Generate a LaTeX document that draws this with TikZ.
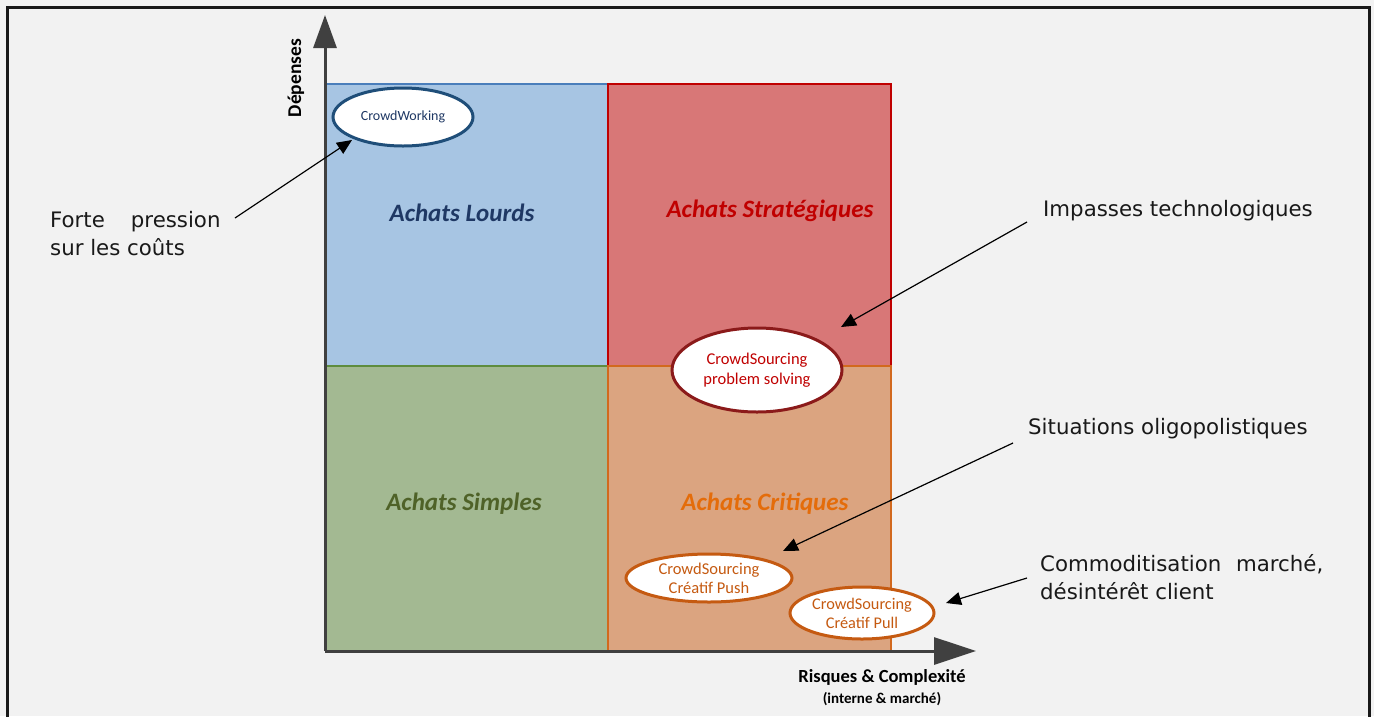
\documentclass[tikz,border=0pt]{standalone}
\usepackage{fontspec}
\setmainfont{Carlito}
\newfontfamily\callfont{DejaVu Sans}
\usetikzlibrary{arrows.meta,shapes.geometric}
\definecolor{bg}{HTML}{F2F2F2}
\definecolor{qblue}{HTML}{A7C5E3}
\definecolor{qblueb}{HTML}{4A7EBB}
\definecolor{qred}{HTML}{D87777}
\definecolor{qredb}{HTML}{C00000}
\definecolor{qgreen}{HTML}{A3B992}
\definecolor{qgreenb}{HTML}{5E8C3E}
\definecolor{qorange}{HTML}{DBA480}
\definecolor{qorangeb}{HTML}{D2691E}
\definecolor{tblue}{HTML}{1F3864}
\definecolor{tred}{HTML}{C00000}
\definecolor{tgreen}{HTML}{4F6228}
\definecolor{torange}{HTML}{E46C0A}
\definecolor{eblue}{HTML}{1F4E79}
\definecolor{ered}{HTML}{8B1A1A}
\definecolor{eorange}{HTML}{C55A11}
\definecolor{axisc}{HTML}{404040}
\tikzset{
  quad/.style={line width=1.5pt},
  qlabel/.style={font=\fontsize{25}{30}\selectfont\bfseries\itshape},
  oval/.style={ellipse, draw, fill=white, line width=3pt, inner sep=0pt, align=center},
  callout/.style={font=\callfont\fontsize{21.3}{28}\selectfont, align=left, anchor=west, inner sep=0pt, text=black!90},
  pointer/.style={-{Triangle[length=15pt,width=13pt]}, line width=1.2pt, black},
}
\begin{document}
\begin{tikzpicture}[x=1pt,y=-1pt]
\useasboundingbox (0,0) rectangle (1374,716);
\fill[bg] (0,0) rectangle (1374,716);
\draw[line width=3pt, black!90] (7,730) -- (7,7) -- (1369,7) -- (1369,730);

% quadrants
\filldraw[quad, fill=qblue, draw=qblueb] (326,84) rectangle (608,366);
\filldraw[quad, fill=qred, draw=qredb] (608,84) rectangle (891,366);
\filldraw[quad, fill=qgreen, draw=qgreenb] (326,366) rectangle (608,651);
\filldraw[quad, fill=qorange, draw=qorangeb] (608,366) rectangle (891,651);

\node[qlabel, text=tblue] (lourds) at (462,213) {Achats Lourds};
\node[qlabel, text=tred] (strat) at (770,211) {Achats Stratégiques};
\node[qlabel, text=tgreen] (simples) at (464,504) {Achats Simples};
\node[qlabel, text=torange] (crit) at (765,504) {Achats Critiques};

% axes
\coordinate (origin) at (325,651);
\coordinate (ytip) at (325,15);
\coordinate (xtip) at (976,651);
\draw[line width=3pt, axisc, -{Triangle[length=33pt,width=23pt]}] (origin) -- (ytip);
\draw[line width=3pt, axisc, -{Triangle[length=42pt,width=27pt]}] (origin) -- (xtip);

\node[rotate=90, font=\fontsize{19.5}{23}\selectfont\bfseries] (ylab) at (296,78) {Dépenses};
\node[font=\fontsize{18.5}{22}\selectfont\bfseries] (xlab) at (882,677) {Risques \& Complexité};
\node[font=\fontsize{15}{18}\selectfont\bfseries] (xsub) at (882,699) {(interne \& marché)};

% ovals
\node[oval, draw=eblue, text=tblue, minimum width=140pt, minimum height=58pt, font=\fontsize{14}{16}\selectfont] (cw) at (403,117) {CrowdWorking};
\node[oval, draw=ered, text=tred, minimum width=170pt, minimum height=84pt, font=\fontsize{16.5}{20}\selectfont] (ps) at (757,370) {CrowdSourcing\\problem solving};
\node[oval, draw=eorange, text=eorange, minimum width=166pt, minimum height=48pt, font=\fontsize{16.5}{19}\selectfont] (push) at (709,578) {CrowdSourcing\\Créatif Push};
\node[oval, draw=eorange, text=eorange, minimum width=144pt, minimum height=52pt, font=\fontsize{16.3}{19}\selectfont] (pull) at (862,613) {CrowdSourcing\\Créatif Pull};

% callouts
\node[callout] (forte) at (50,234) {Forte\hspace{26pt}pression\\sur les coûts};
\node[callout] (imp) at (1043,211) {Impasses technologiques};
\node[callout] (sit) at (1028,429) {Situations oligopolistiques};
\node[callout] (com) at (1040,577) {Commoditisation\hspace{8pt} marché,\\désintérêt client};

\coordinate (a1s) at (235,218);
\coordinate (a1e) at (352,140);
\coordinate (a2s) at (1027,222);
\coordinate (a2e) at (841,327);
\coordinate (a3s) at (1013,443);
\coordinate (a3e) at (783,551);
\coordinate (a4s) at (1027,578);
\coordinate (a4e) at (946,603);
\draw[pointer] (a1s) -- (a1e);
\draw[pointer] (a2s) -- (a2e);
\draw[pointer] (a3s) -- (a3e);
\draw[pointer] (a4s) -- (a4e);
\end{tikzpicture}
\end{document}
